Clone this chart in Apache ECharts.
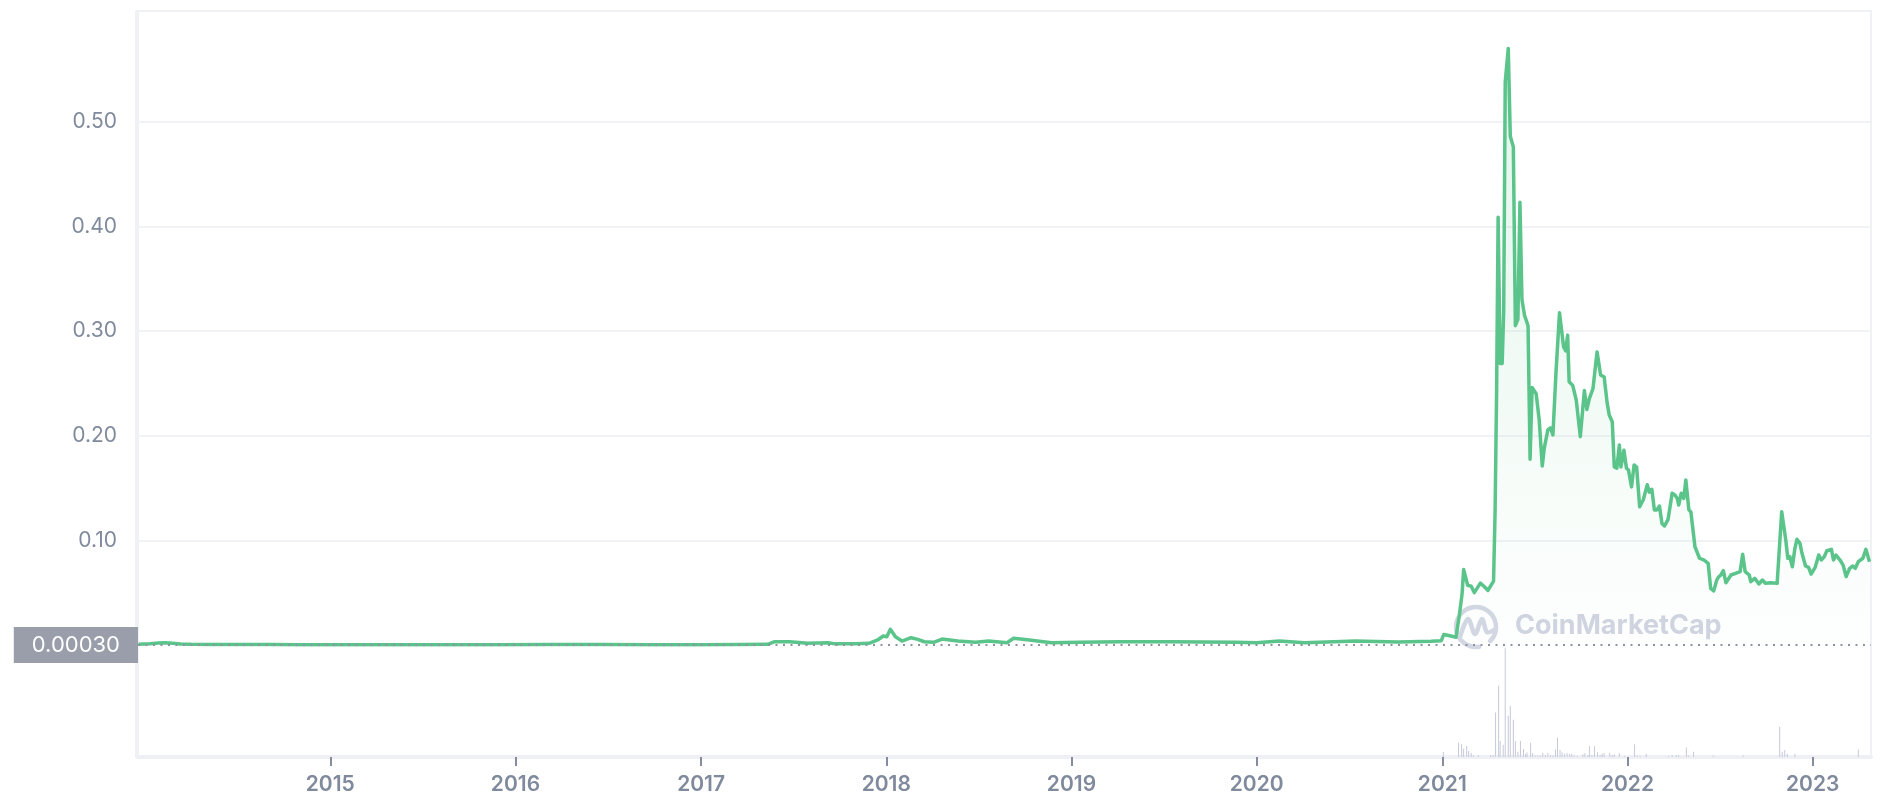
<!DOCTYPE html>
<html><head><meta charset="utf-8">
<script src="https://cdn.jsdelivr.net/npm/echarts@6/dist/echarts.min.js"></script>
<style>html,body{margin:0;padding:0;background:#fff}#c{width:1886px;height:802px}</style>
</head><body><div id="c"></div>
<script>
const priceDates = [
'2013-12-19','2014-01-11','2014-01-27','2014-02-10','2014-02-24','2014-03-12','2014-04-01','2014-05-10','2014-07-08','2014-09-05','2014-11-03',
'2015-01-01','2015-03-01','2015-05-19','2015-08-26','2015-12-03','2016-03-11','2016-06-18','2016-09-25',
'2017-01-01','2017-03-20','2017-05-12','2017-05-25','2017-06-25','2017-07-30','2017-09-08','2017-09-22','2017-11-02','2017-11-28','2017-12-15','2017-12-26',
'2018-01-02','2018-01-09','2018-01-19','2018-02-01','2018-02-19','2018-03-04','2018-03-17','2018-04-04','2018-04-21','2018-05-22','2018-06-26','2018-07-22','2018-08-27','2018-09-09','2018-10-10','2018-11-23',
'2019-01-18','2019-04-07','2019-07-13','2019-11-21','2020-01-01','2020-02-15','2020-04-04','2020-07-14','2020-10-06','2020-12-10','2020-12-30',
'2021-01-04','2021-01-18','2021-01-28','2021-02-04','2021-02-09','2021-02-12','2021-02-20','2021-02-27','2021-03-05','2021-03-17','2021-03-25','2021-04-01','2021-04-12','2021-04-15','2021-04-18','2021-04-21','2021-04-25','2021-04-29',
'2021-05-02','2021-05-05','2021-05-11','2021-05-15','2021-05-21','2021-05-25','2021-05-30','2021-06-03','2021-06-07','2021-06-12','2021-06-19','2021-06-23','2021-06-27',
'2021-07-05','2021-07-11','2021-07-17','2021-07-21','2021-07-28','2021-08-02','2021-08-07','2021-08-13','2021-08-20','2021-08-28','2021-09-01','2021-09-05','2021-09-08','2021-09-15','2021-09-22','2021-09-30',
'2021-10-08','2021-10-13','2021-10-18','2021-10-25','2021-11-02','2021-11-09','2021-11-16','2021-11-22','2021-11-26','2021-12-02','2021-12-06','2021-12-11','2021-12-16','2021-12-19','2021-12-25','2021-12-30',
'2022-01-03','2022-01-09','2022-01-14','2022-01-19','2022-01-25','2022-02-01','2022-02-09','2022-02-13','2022-02-18','2022-02-23','2022-02-28','2022-03-05','2022-03-10','2022-03-15','2022-03-22','2022-03-30',
'2022-04-05','2022-04-09','2022-04-12','2022-04-17','2022-04-22','2022-04-26','2022-05-02','2022-05-06','2022-05-14','2022-05-23','2022-06-01','2022-06-09','2022-06-14','2022-06-20','2022-06-26','2022-06-29',
'2022-07-04','2022-07-07','2022-07-09','2022-07-14','2022-07-24','2022-08-02','2022-08-11','2022-08-16','2022-08-21','2022-08-29','2022-09-01','2022-09-09','2022-09-17','2022-09-24','2022-09-30','2022-10-10','2022-10-23',
'2022-11-01','2022-11-09','2022-11-13','2022-11-17','2022-11-22','2022-11-27','2022-12-01','2022-12-07','2022-12-11','2022-12-18','2022-12-24','2022-12-29',
'2023-01-06','2023-01-13','2023-01-18','2023-01-24','2023-01-29','2023-02-07','2023-02-11','2023-02-16','2023-02-24','2023-03-02','2023-03-08','2023-03-15','2023-03-21','2023-03-26','2023-04-01','2023-04-10','2023-04-16','2023-04-23'
];
const priceValues = [
0.0006,0.0012,0.0018,0.0020,0.0016,0.0009,0.0006,0.0005,0.0003,0.0003,0.0002,
0.0002,0.00025,0.0002,0.0002,0.00015,0.0003,0.0003,0.0002,
0.0002,0.0004,0.0006,0.0030,0.0030,0.0016,0.0021,0.0010,0.0012,0.0015,0.0047,0.0085,
0.0078,0.0149,0.0078,0.0037,0.0069,0.0053,0.0030,0.0025,0.0056,0.0037,0.0025,0.0037,0.0021,0.0063,0.0047,0.0021,
0.0025,0.0030,0.0030,0.0025,0.0020,0.0037,0.0021,0.0037,0.0028,0.0035,0.0040,
0.0100,0.0085,0.0073,0.0300,0.0490,0.0720,0.0570,0.0560,0.0500,0.0590,0.0556,0.0520,0.0610,0.1270,0.2420,0.4087,0.2690,0.2690,
0.3190,0.5380,0.5700,0.4860,0.4760,0.3050,0.3110,0.4230,0.3300,0.3150,0.3050,0.1775,0.2460,
0.2400,0.2150,0.1710,0.1880,0.2055,0.2075,0.2006,0.2600,0.3175,0.2850,0.2810,0.2960,0.2515,0.2480,0.2340,0.1990,
0.2430,0.2250,0.2356,0.2450,0.2800,0.2580,0.2560,0.2310,0.2197,0.2133,0.1700,0.1688,0.1910,0.1700,0.1860,0.1688,
0.1670,0.1510,0.1720,0.1700,0.1320,0.1385,0.1530,0.1460,0.1487,0.1290,0.1290,0.1327,0.1160,0.1136,0.1200,0.1450,
0.1430,0.1400,0.1337,0.1450,0.1400,0.1576,0.1290,0.1270,0.0938,0.0828,0.0810,0.0780,0.0540,0.0516,0.0620,0.0646,
0.0668,0.0684,0.0709,0.0594,0.0668,0.0684,0.0700,0.0866,0.0700,0.0668,0.0604,0.0636,0.0582,0.0620,0.0589,0.0594,0.0589,
0.1273,0.1002,0.0828,0.0843,0.0747,0.0923,0.1009,0.0970,0.0875,0.0754,0.0741,0.0677,
0.0741,0.0859,0.0811,0.0843,0.0900,0.0913,0.0811,0.0859,0.0811,0.0763,0.0652,0.0732,0.0754,0.0732,0.0795,0.0828,0.0913,0.0795
];
const volumeDates = [
'2021-01-03','2021-02-02','2021-02-08','2021-02-12','2021-02-18','2021-02-22','2021-02-27','2021-03-03','2021-03-13','2021-04-06','2021-04-11','2021-04-16','2021-04-22','2021-04-25',
'2021-05-01','2021-05-05','2021-05-11','2021-05-15','2021-05-21','2021-05-25','2021-05-30','2021-06-04','2021-06-10','2021-06-14','2021-06-17','2021-06-24','2021-06-28',
'2021-07-03','2021-07-08','2021-07-13','2021-07-18','2021-07-23','2021-07-28','2021-08-02','2021-08-07','2021-08-12','2021-08-16','2021-08-21','2021-08-25','2021-08-30',
'2021-09-04','2021-09-09','2021-09-13','2021-09-18','2021-09-24','2021-10-05','2021-10-09','2021-10-15','2021-10-18','2021-10-23','2021-10-28','2021-11-03','2021-11-08','2021-11-12','2021-11-16','2021-11-27','2021-12-02','2021-12-06','2021-12-16','2021-12-26',
'2022-01-15','2022-01-20','2022-01-26','2022-02-07','2022-03-23','2022-03-30','2022-04-07','2022-04-12','2022-04-27','2022-05-01','2022-05-11','2022-06-19','2022-08-17','2022-10-28','2022-11-02','2022-11-07','2022-11-12','2022-11-27','2023-04-01'
];
const volumeValues = [
3.2,9.0,8.1,5.3,7.0,3.8,2.6,0.9,0.9,1.3,1.3,28.2,45.4,10.2,
7.7,69.0,26.2,32.6,23.7,10.2,3.4,10.2,5.1,1.7,2.8,9.0,2.6,
0.9,0.9,0.9,2.6,1.3,2.6,1.3,0.9,4.7,12.4,4.5,3.0,2.1,
2.6,2.1,1.9,0.9,0.6,1.7,2.6,1.3,6.8,1.3,6.8,3.0,1.3,2.1,2.6,2.6,1.3,1.7,2.6,0.6,
8.1,0.9,0.6,2.1,0.6,1.3,1.3,0.9,6.0,0.9,3.4,0.9,0.9,19.2,3.4,4.5,2.1,2.1,4.7
];
const yTickLabels = ['0.10','0.20','0.30','0.40','0.50'];
const xTickDates = ['2015-01-01','2016-01-01','2017-01-01','2018-01-01','2019-01-01','2020-01-01','2021-01-01','2022-01-01','2023-01-01'];
const xTickLabels = ['2015','2016','2017','2018','2019','2020','2021','2022','2023'];
const refPrice = 0.0003;
const refLabel = '0.00030';
const xRange = ['2013-12-18','2023-04-26'];

function ts(s){const p=s.split('-');return Date.UTC(+p[0],+p[1]-1,+p[2]);}
const xMin = ts(xRange[0]), xMax = ts(xRange[1]);
const tickTs = xTickDates.map(ts);
const priceData = priceDates.map((d,i)=>[ts(d),priceValues[i]]);
const volData = volumeDates.map((d,i)=>[ts(d),volumeValues[i]]);
const volMax = Math.max(...volumeValues)*1.03;

const gray = '#808a9d';
const chart = echarts.init(document.getElementById('c'));
chart.setOption({
  animation:false,
  backgroundColor:'#ffffff',
  grid:[
    {left:138,right:15,top:17,bottom:157.1},
    {left:138,right:15,top:645,bottom:45}
  ],
  xAxis:[
    {type:'value',gridIndex:0,min:xMin,max:xMax,show:false,splitLine:{show:false}},
    {type:'value',gridIndex:1,min:xMin,max:xMax,
      axisLine:{show:true,lineStyle:{color:'#eef0f5',width:4}},
      axisTick:{show:true,length:9,lineStyle:{color:'#858c9f',width:2},customValues:tickTs},
      axisLabel:{customValues:tickTs,margin:17,color:gray,fontFamily:'Inter',fontSize:21,fontWeight:600,
        formatter:function(v){const i=tickTs.indexOf(v);return i>=0?xTickLabels[i]:'';}},
      splitLine:{show:false}}
  ],
  yAxis:[
    {type:'value',gridIndex:0,min:0,max:0.6,interval:0.1,
      axisLine:{show:false},axisTick:{show:false},
      splitLine:{show:true,showMinLine:false,showMaxLine:false,lineStyle:{color:'#f1f2f6',width:2}},
      axisLabel:{showMinLabel:false,showMaxLabel:false,margin:21,color:gray,fontFamily:'Inter',fontSize:21,
        formatter:function(v){const s=v.toFixed(2);return yTickLabels.indexOf(s)>=0?s:'';}}},
    {type:'value',gridIndex:1,min:0,max:volMax,show:false,splitLine:{show:false}}
  ],
  graphic:[
    {type:'rect',z:0,silent:true,shape:{x:137,y:11,width:1734,height:746},style:{fill:'none',stroke:'#eff1f5',lineWidth:2}},
    {type:'line',z:0,silent:true,shape:{x1:137,y1:11,x2:137,y2:758},style:{stroke:'#eff1f5',lineWidth:4}},
    {type:'arc',z:0,silent:true,shape:{cx:1476,cy:627,r:20,startAngle:Math.PI*0.45,endAngle:Math.PI*2.25,clockwise:true},style:{fill:'none',stroke:'#d3d7e3',lineWidth:4.5,lineCap:'round'}},
    {type:'polyline',z:0,silent:true,shape:{points:[[1460,637],[1468,619],[1475,634],[1482,619],[1487,632],[1494,630]],smooth:0.35},style:{fill:'none',stroke:'#d3d7e3',lineWidth:4.5,lineCap:'round',lineJoin:'round'}},
    {type:'text',z:0,silent:true,x:1515,y:626,style:{text:'CoinMarketCap',fill:'#d0d4e1',font:'700 27px Inter',verticalAlign:'middle',align:'left'}}
  ],
  series:[
    {type:'line',xAxisIndex:0,yAxisIndex:0,data:priceData,showSymbol:false,symbol:'none',z:3,
      lineStyle:{color:'#5ac48a',width:3.5,join:'round'},
      itemStyle:{color:'#5ac48a'},
      areaStyle:{color:new echarts.graphic.LinearGradient(0,0,0,1,[{offset:0,color:'rgba(90,196,138,0.24)'},{offset:1,color:'rgba(90,196,138,0.01)'}])},
      markLine:{silent:true,symbol:['none','none'],animation:false,
        data:[{yAxis:refPrice}],
        lineStyle:{color:'#8d93a2',type:[2,5.5],width:2},
        label:{show:true,position:'start',distance:0,formatter:refLabel,color:'#ffffff',fontFamily:'Inter',fontSize:22,lineHeight:22,
          backgroundColor:'#9a9eaa',padding:[7,18,7,18]}}
    },
    {type:'bar',xAxisIndex:1,yAxisIndex:1,data:volData,barWidth:1,itemStyle:{color:'#c6c9da'},z:2}
  ]
});
</script></body></html>
